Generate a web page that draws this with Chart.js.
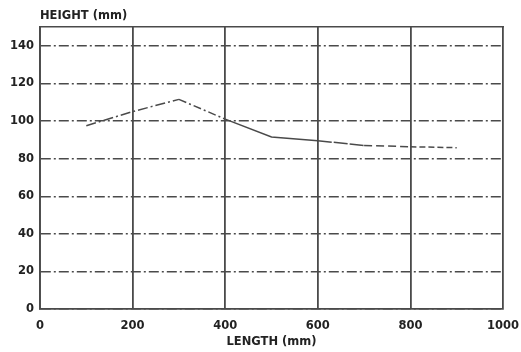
<!DOCTYPE html>
<html>
<head>
<meta charset="utf-8">
<script src="https://cdn.jsdelivr.net/npm/chart.js@4.4.0/dist/chart.umd.min.js"></script>
<style>
  html, body { margin: 0; padding: 0; background: #fff; }
  #wrap { width: 521px; height: 352px; }
</style>
</head>
<body>
<div id="wrap"><canvas id="chart"></canvas></div>
<script>
// values
let lengths = [100, 200, 300, 400, 500, 600, 700, 800, 900];
let heights = [97.5, 105, 111.5, 101, 91.5, 89.5, 87, 86.3, 85.8];
let xTicks = [0, 200, 400, 600, 800, 1000];
let yTicks = [0, 20, 40, 60, 80, 100, 120, 140];

let ink = '#4a4a4a';
let dashDot = [10, 3, 2, 3];
// line style per segment, the scan mixes dash-dot, solid and dashed
let segDash = [dashDot, dashDot, [8, 3, 2, 3], [], [], [14, 2], [8, 4], [6, 3]];

let font = { family: 'DejaVu Sans', weight: 'bold', size: 11.5 };

let heightTitle = {
    id: 'heightTitle',
    afterDraw: function (chart) {
        let ctx = chart.ctx;
        ctx.save();
        ctx.font = 'bold 11.5px "DejaVu Sans"';
        ctx.fillStyle = '#222';
        ctx.textBaseline = 'middle';
        ctx.fillText('HEIGHT (mm)', chart.chartArea.left, 16);
        ctx.restore();
    }
};

let points = lengths.map(function (x, i) {
    return { x: x, y: heights[i] };
});

let ctx = document.getElementById('chart').getContext('2d');
let myChart = new Chart(ctx, {
    type: 'scatter',
    data: {
        datasets: [{
            data: points,
            showLine: true,
            borderColor: ink,
            borderWidth: 1.5,
            pointRadius: 0,
            tension: 0,
            segment: {
                borderDash: function (c) { return segDash[c.p0DataIndex] || []; }
            }
        }]
    },
    options: {
        responsive: true,
        maintainAspectRatio: false,
        animation: false,
        layout: { padding: { top: 27, right: 18, left: 0, bottom: 0 } },
        plugins: {
            legend: { display: false },
            tooltip: { enabled: false }
        },
        scales: {
            x: {
                type: 'linear',
                min: 0,
                max: 1000,
                afterBuildTicks: function (s) { s.ticks = xTicks.map(function (v) { return { value: v }; }); },
                afterFit: function (s) {
                    s.height = 43;
                    s.paddingLeft = 0;
                    s.paddingRight = 0;
                },
                ticks: {
                    color: '#222', font: font, padding: 10, maxRotation: 0,
                    callback: function (v) { return String(v); }
                },
                grid: { color: ink, lineWidth: 1.8, drawTicks: false },
                border: { display: true, color: ink, width: 1.8 },
                title: {
                    display: true,
                    text: 'LENGTH (mm)',
                    color: '#222',
                    font: font,
                    padding: { top: 0, bottom: 3 }
                }
            },
            x2: {
                type: 'linear',
                position: 'top',
                min: 0,
                max: 1000,
                ticks: { display: false },
                grid: { display: false, drawTicks: false },
                border: { display: true, color: ink, width: 1.5 },
                afterFit: function (s) {
                    s.height = 0;
                    s.paddingLeft = 0;
                    s.paddingRight = 0;
                }
            },
            y: {
                min: 0,
                max: 150,
                afterBuildTicks: function (s) { s.ticks = yTicks.map(function (v) { return { value: v }; }); },
                afterFit: function (s) {
                    s.width = 40;
                    s.paddingTop = 0;
                    s.paddingBottom = 0;
                },
                ticks: { color: '#222', font: font, padding: 6 },
                grid: { color: ink, lineWidth: 1.4, drawTicks: false },
                border: { display: true, color: ink, width: 1.8, dash: dashDot }
            }
        }
    },
    plugins: [heightTitle]
});
</script>
</body>
</html>
